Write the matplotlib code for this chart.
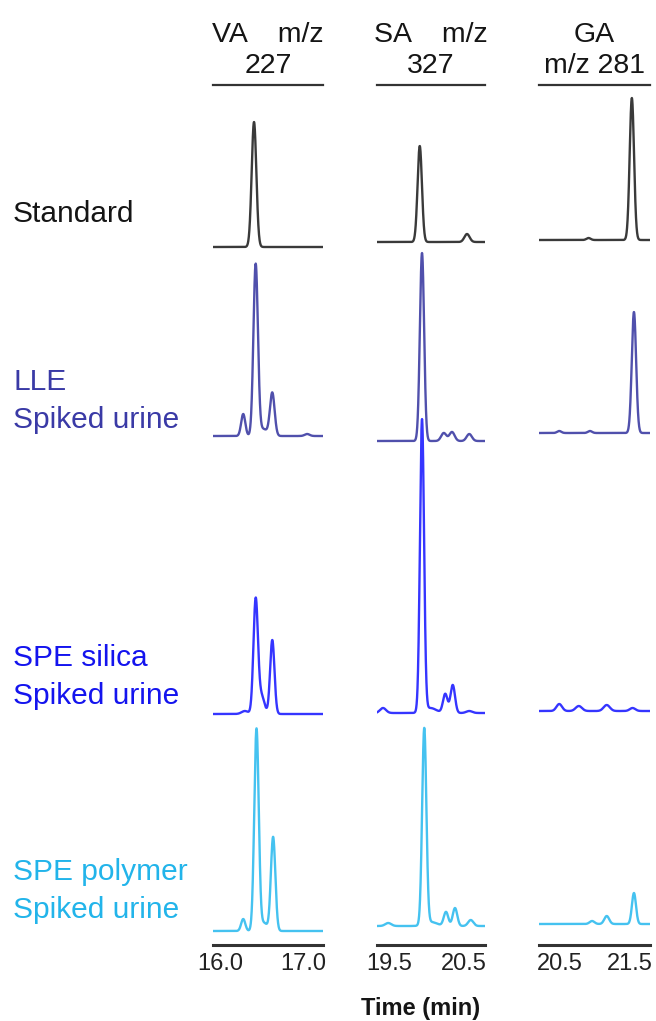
import numpy as np
import matplotlib.pyplot as plt

plt.rcParams['font.family'] = ['Liberation Sans', 'DejaVu Sans']

# columns: analyte header, x range (min), tick positions
headers = ['VA    m/z\n227', 'SA    m/z\n327', 'GA\nm/z 281']
xranges = [(15.916, 17.241), (19.34, 20.78), (20.20, 21.79)]
xticks = [[16.0, 17.0], [19.5, 20.5], [20.5, 21.5]]

# rows: sample preparation
row_names = ['Standard', 'LLE\nSpiked urine', 'SPE silica\nSpiked urine', 'SPE polymer\nSpiked urine']
row_text_y = [214, 401, 677, 891]
line_colors = ['#3a3a3a', '#5050ac', '#3535ff', '#45c2f0']
text_colors = ['#151515', '#3a3aa6', '#1414ee', '#22b4ea']

# vertical offset of each trace baseline (row x column)
baselines = [[698, 703, 705],
             [509, 504, 512],
             [231, 232, 234],
             [14, 19, 21]]

# peaks as (retention time, height, sigma)
va_std = [(16.41, 125, 0.028)]
va_lle = [(16.28, 22, 0.025), (16.43, 171, 0.027), (16.52, 7, 0.05), (16.63, 43, 0.028), (17.05, 2, 0.03)]
va_silica = [(16.30, 3, 0.04), (16.43, 114, 0.027), (16.50, 18, 0.035), (16.63, 74, 0.026)]
va_polymer = [(16.28, 12, 0.025), (16.44, 202, 0.027), (16.53, 8, 0.04), (16.64, 94, 0.027)]

sa_std = [(19.91, 96, 0.029), (20.54, 8, 0.035)]
sa_lle = [(19.94, 188, 0.028), (20.23, 8, 0.035), (20.34, 9, 0.035), (20.57, 7, 0.035)]
sa_silica = [(19.42, 5, 0.04), (19.94, 292, 0.027), (20.05, 5, 0.08), (20.25, 19, 0.03),
             (20.35, 28, 0.03), (20.57, 2, 0.04)]
sa_polymer = [(19.49, 3, 0.04), (19.97, 196, 0.028), (20.06, 4, 0.08), (20.26, 14, 0.03),
              (20.38, 18, 0.03), (20.59, 6, 0.035)]

ga_std = [(20.91, 2, 0.03), (21.53, 142, 0.031)]
ga_lle = [(20.49, 2, 0.03), (20.93, 2, 0.03), (21.56, 121, 0.031)]
ga_silica = [(20.49, 7, 0.04), (20.77, 5, 0.045), (21.17, 6, 0.045), (21.54, 3, 0.04)]
ga_polymer = [(20.96, 3, 0.035), (21.17, 8, 0.035), (21.56, 31, 0.029)]

peaks = [[va_std, sa_std, ga_std],
         [va_lle, sa_lle, ga_lle],
         [va_silica, sa_silica, ga_silica],
         [va_polymer, sa_polymer, ga_polymer]]

W, H = 656, 1021
fig = plt.figure(figsize=(W / 100, H / 100), dpi=100)

col_px = [(213, 323), (377, 485), (539, 650)]
top_px, bot_px = 85, 945

for c in range(3):
    x0, x1 = col_px[c]
    ax = fig.add_axes([x0 / W, 1 - bot_px / H, (x1 - x0) / W, (bot_px - top_px) / H])
    t = np.linspace(xranges[c][0], xranges[c][1], 1500)
    for r in range(4):
        y = np.full_like(t, baselines[r][c], dtype=float)
        for rt, h, s in peaks[r][c]:
            y += h * np.exp(-0.5 * ((t - rt) / s) ** 2)
        ax.plot(t, y, color=line_colors[r], lw=1.7, solid_joinstyle='round')
    ax.set_xlim(*xranges[c])
    ax.set_ylim(0, bot_px - top_px)
    ax.set_yticks([])
    ax.set_xticks(xticks[c])
    ax.set_xticklabels([f'{v:.1f}' for v in xticks[c]], fontsize=17, color='#222222')
    ax.tick_params(axis='x', length=0, pad=6)
    for side in ['left', 'right']:
        ax.spines[side].set_visible(False)
    ax.spines['bottom'].set_linewidth(2.2)
    ax.spines['bottom'].set_color('#333333')
    ax.spines['top'].set_linewidth(1.6)
    ax.spines['top'].set_color('#333333')
    ax.text(0.5, 1.007, headers[c], transform=ax.transAxes, ha='center', va='bottom',
            fontsize=20.5, color='#151515', linespacing=1.27)

for name, ty, col in zip(row_names, row_text_y, text_colors):
    fig.text(13 / W, 1 - ty / H, name, ha='left', va='center', fontsize=21.5,
             color=col, linespacing=1.45)

fig.text(421 / W, 1 - 1008 / H, 'Time (min)', ha='center', va='center',
         fontsize=17, fontweight='bold', color='#151515')

fig.savefig('out.png', dpi=100)
